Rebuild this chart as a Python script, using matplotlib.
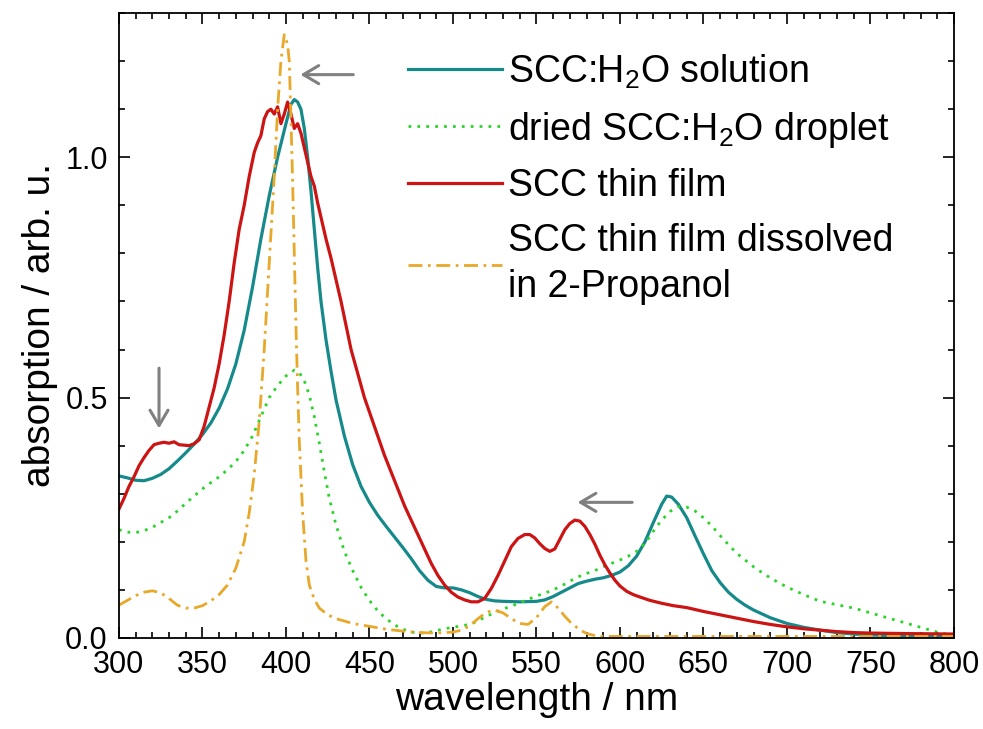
import numpy as np
import matplotlib
matplotlib.use("Agg")
import matplotlib.pyplot as plt
from matplotlib.ticker import MultipleLocator, FormatStrFormatter

plt.rcParams['font.family'] = ['Liberation Sans', 'DejaVu Sans']
plt.rcParams['mathtext.fontset'] = 'custom'
plt.rcParams['mathtext.rm'] = 'Liberation Sans'
plt.rcParams['mathtext.it'] = 'Liberation Sans:italic'

# ---- data (wavelength nm, absorption) ----
sol_wl = [300, 305, 310, 315, 320, 325, 330, 335, 340, 345, 350, 355, 360, 365, 370, 375,
          380, 385, 390, 395, 400, 403, 405, 407, 409, 411, 413, 415, 417, 419, 421, 424,
          427, 430, 435, 440, 445, 450, 455, 460, 465, 470, 475, 480, 485, 490, 495, 500,
          505, 510, 515, 520, 525, 530, 540, 550, 555, 560, 565, 570, 575, 580, 585, 590,
          595, 600, 605, 610, 615, 620, 625, 628, 631, 635, 640, 645, 650, 655, 660, 665,
          670, 675, 680, 690, 700, 710, 720, 730, 740, 750, 770, 800]
sol_abs = [0.337, 0.333, 0.328, 0.327, 0.332, 0.340, 0.352, 0.368, 0.385, 0.403, 0.423, 0.447,
           0.478, 0.518, 0.57, 0.64, 0.73, 0.83, 0.92, 1.00, 1.07, 1.11, 1.12, 1.115, 1.10,
           1.06, 1.00, 0.93, 0.85, 0.77, 0.70, 0.62, 0.555, 0.495, 0.42, 0.36, 0.315, 0.282,
           0.255, 0.232, 0.21, 0.188, 0.165, 0.14, 0.12, 0.107, 0.104, 0.104, 0.1, 0.094,
           0.086, 0.08, 0.077, 0.076, 0.075, 0.076, 0.079, 0.086, 0.095, 0.104, 0.113, 0.118,
           0.122, 0.125, 0.13, 0.137, 0.15, 0.17, 0.2, 0.24, 0.278, 0.295, 0.293, 0.278, 0.25,
           0.212, 0.175, 0.14, 0.115, 0.095, 0.08, 0.068, 0.058, 0.042, 0.03, 0.022, 0.016,
           0.011, 0.008, 0.006, 0.004, 0.004]

drop_wl = [300, 305, 310, 315, 320, 325, 330, 335, 340, 345, 350, 355, 360, 365, 370, 375,
           380, 385, 390, 395, 400, 405, 408, 411, 414, 417, 420, 423, 426, 430, 435, 440,
           445, 450, 455, 460, 465, 470, 475, 480, 485, 490, 495, 500, 505, 510, 515, 520,
           525, 530, 535, 540, 545, 550, 555, 560, 565, 570, 575, 580, 585, 590, 595, 600,
           605, 610, 615, 620, 625, 630, 635, 640, 645, 650, 655, 660, 665, 670, 675, 680,
           685, 690, 695, 700, 710, 720, 730, 740, 750, 760, 770, 780, 790, 800]
drop_abs = [0.225, 0.22, 0.219, 0.223, 0.23, 0.24, 0.25, 0.264, 0.28, 0.295, 0.31, 0.323,
            0.335, 0.35, 0.367, 0.39, 0.42, 0.46, 0.5, 0.525, 0.545, 0.557, 0.552, 0.535,
            0.505, 0.46, 0.405, 0.345, 0.29, 0.235, 0.18, 0.14, 0.105, 0.078, 0.056, 0.04,
            0.027, 0.018, 0.012, 0.01, 0.011, 0.015, 0.019, 0.022, 0.025, 0.028, 0.035, 0.045,
            0.052, 0.06, 0.066, 0.073, 0.08, 0.087, 0.093, 0.1, 0.108, 0.118, 0.127, 0.134,
            0.14, 0.148, 0.155, 0.162, 0.17, 0.18, 0.196, 0.222, 0.245, 0.263, 0.273, 0.272,
            0.264, 0.25, 0.233, 0.213, 0.194, 0.176, 0.162, 0.148, 0.136, 0.125, 0.115, 0.106,
            0.09, 0.076, 0.069, 0.062, 0.052, 0.042, 0.032, 0.022, 0.012, 0.005]

film_wl = [300, 303, 306, 309, 312, 315, 318, 321, 324, 327, 330, 333, 336, 339, 342, 345,
           348, 351, 354, 357, 360, 363, 366, 369, 372, 375, 378, 381, 383, 385, 387, 389,
           391, 393, 395, 397, 399, 401, 403, 405, 407, 409, 411, 413, 415, 417, 419, 421,
           424, 427, 430, 433, 436, 439, 443, 447, 451, 455, 459, 463, 467, 471, 475, 479,
           483, 487, 491, 495, 499, 503, 507, 511, 515, 519, 523, 527, 531, 535, 539, 543,
           546, 549, 552, 555, 558, 561, 564, 567, 570, 573, 576, 579, 582, 585, 588, 591,
           594, 597, 600, 604, 608, 612, 618, 625, 632, 640, 650, 660, 670, 680, 690, 700,
           710, 720, 730, 740, 750, 770, 800]
film_abs = [0.268, 0.29, 0.315, 0.335, 0.358, 0.375, 0.39, 0.402, 0.405, 0.407, 0.405, 0.408,
            0.402, 0.401, 0.400, 0.404, 0.412, 0.44, 0.48, 0.52, 0.57, 0.63, 0.70, 0.78, 0.85,
            0.90, 0.96, 1.01, 1.03, 1.045, 1.08, 1.095, 1.10, 1.09, 1.105, 1.07, 1.09, 1.115,
            1.09, 1.06, 1.07, 1.05, 1.02, 0.99, 0.96, 0.94, 0.905, 0.875, 0.83, 0.79, 0.745,
            0.70, 0.65, 0.60, 0.55, 0.50, 0.46, 0.42, 0.38, 0.345, 0.31, 0.275, 0.245, 0.215,
            0.185, 0.155, 0.13, 0.11, 0.095, 0.085, 0.079, 0.075, 0.075, 0.082, 0.103, 0.13,
            0.16, 0.19, 0.207, 0.215, 0.215, 0.208, 0.196, 0.186, 0.18, 0.185, 0.205, 0.225,
            0.238, 0.245, 0.243, 0.232, 0.215, 0.195, 0.172, 0.152, 0.135, 0.12, 0.108, 0.097,
            0.09, 0.085, 0.078, 0.072, 0.067, 0.063, 0.055, 0.048, 0.041, 0.034, 0.028, 0.023,
            0.019, 0.016, 0.013, 0.011, 0.01, 0.009, 0.008]

prop_wl = [300, 305, 310, 315, 320, 325, 330, 335, 340, 345, 350, 355, 360, 365, 370, 375,
           378, 381, 384, 387, 390, 393, 395, 397, 399, 401, 402, 403, 404, 405, 406, 407,
           408, 410, 412, 414, 417, 420, 425, 430, 440, 450, 460, 470, 480, 490, 500, 505,
           510, 515, 520, 525, 530, 535, 540, 545, 550, 555, 559, 563, 567, 571, 576, 580,
           586, 590, 600, 650, 700, 750, 800]
prop_abs = [0.068, 0.078, 0.088, 0.095, 0.098, 0.094, 0.082, 0.068, 0.062, 0.062, 0.067,
            0.077, 0.09, 0.11, 0.145, 0.2, 0.26, 0.34, 0.45, 0.6, 0.78, 0.96, 1.1, 1.2, 1.255,
            1.235, 1.2, 1.08, 0.95, 0.8, 0.65, 0.52, 0.41, 0.26, 0.16, 0.11, 0.08, 0.062,
            0.048, 0.04, 0.03, 0.024, 0.018, 0.014, 0.011, 0.01, 0.012, 0.016, 0.025, 0.04,
            0.053, 0.058, 0.052, 0.04, 0.03, 0.028, 0.042, 0.065, 0.075, 0.062, 0.045, 0.03,
            0.017, 0.009, 0.004, 0.003, 0.003, 0.003, 0.003, 0.003, 0.003]

labels = ['SCC:H$_2$O solution', 'dried SCC:H$_2$O droplet', 'SCC thin film',
          'SCC thin film dissolved\nin 2-Propanol']

# ---- plot ----
fig = plt.figure(figsize=(9.83, 7.29), dpi=100)
ax = fig.add_axes([0.121, 0.125, 0.8494, 0.857])

ax.plot(sol_wl, sol_abs, color='#168a8a', lw=2.3, label=labels[0])
ax.plot(drop_wl, drop_abs, color='#2ad42a', lw=2.0, ls=(0, (1, 2.2)), label=labels[1])
ax.plot(film_wl, film_abs, color='#cc1414', lw=2.3, label=labels[2])
ax.plot(prop_wl, prop_abs, color='#e8a82a', lw=2.0, ls=(0, (5, 2, 1, 2)), label=labels[3])

# grey arrows marking the shifts
arrow_kw = dict(arrowstyle='->,head_length=1.1,head_width=0.65', color='#808080', lw=2.2)
ax.annotate('', xy=(407, 1.172), xytext=(442, 1.172), arrowprops=arrow_kw)
ax.annotate('', xy=(324, 0.43), xytext=(324, 0.567), arrowprops=arrow_kw)
ax.annotate('', xy=(573, 0.282), xytext=(609, 0.282), arrowprops=arrow_kw)

ax.set_xlim(300, 800)
ax.set_ylim(0, 1.3)
ax.xaxis.set_major_locator(MultipleLocator(50))
ax.xaxis.set_minor_locator(MultipleLocator(10))
ax.yaxis.set_major_locator(MultipleLocator(0.5))
ax.yaxis.set_minor_locator(MultipleLocator(0.1))
ax.yaxis.set_major_formatter(FormatStrFormatter('%.1f'))
ax.tick_params(which='both', direction='in', top=True, right=True, labelsize=22, width=1.2)
ax.tick_params(which='major', length=8)
ax.tick_params(which='minor', length=4.5)
ax.tick_params(axis='x', pad=9)
ax.tick_params(axis='y', pad=8)
for s in ax.spines.values():
    s.set_linewidth(1.3)

ax.set_xlabel('wavelength / nm', fontsize=28, labelpad=1)
ax.set_ylabel('absorption / arb. u.', fontsize=28, labelpad=5)

leg = ax.legend(loc='upper left', bbox_to_anchor=(0.346, 0.937), frameon=False, fontsize=27,
                handlelength=2.5, handletextpad=0.18, labelspacing=0.5, borderpad=0.0,
                borderaxespad=0.0)
for t in leg.get_texts():
    t.set_linespacing(1.35)

fig.savefig('out.png', dpi=100)
